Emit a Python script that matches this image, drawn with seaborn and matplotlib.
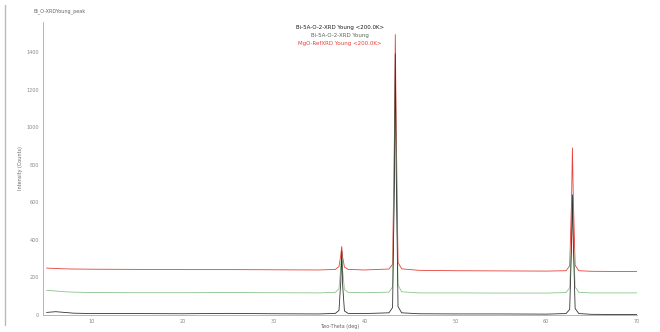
import pandas as pd
import matplotlib.pyplot as plt
import seaborn as sns
from matplotlib.lines import Line2D

# XRD scan data (2-theta in degrees, intensity in counts)
two_theta = [5, 6, 7, 8, 10, 15, 20, 25, 30, 35, 36.8, 37.2, 37.4, 37.5, 37.6, 37.8, 38.2,
             40, 42.7, 43.1, 43.3, 43.4, 43.5, 43.7, 44.1, 46, 50, 55, 60,
             62.2, 62.6, 62.8, 62.9, 63.0, 63.2, 63.6, 65, 68, 70]

black_counts = [14, 18, 14, 10, 8, 8, 7, 9, 7, 6, 9, 25, 180, 340, 160, 22, 9,
                8, 12, 40, 700, 1390, 760, 45, 12, 7, 6, 6, 5,
                8, 30, 360, 640, 380, 35, 8, 4, 3, 3]

green_counts = [132, 128, 124, 122, 120, 119, 119, 120, 119, 118, 121, 140, 260, 330, 240, 135, 121,
                119, 122, 150, 780, 1250, 820, 160, 124, 118, 118, 117, 117,
                120, 145, 400, 600, 410, 150, 121, 118, 118, 118]

red_counts = [250, 248, 246, 245, 244, 243, 242, 242, 241, 240, 243, 258, 320, 365, 310, 255, 243,
              240, 245, 270, 950, 1493, 1000, 280, 246, 238, 236, 235, 234,
              236, 262, 600, 890, 620, 265, 236, 233, 232, 232]

series_names = ['Bi-5A-O-2-XRD Young <200.0K>', 'Bi-5A-O-2-XRD Young', 'MgO-RefXRD Young <200.0K>']
series_colors = ['#333333', '#8cc48c', '#e8403a']

x_ticks = [10, 20, 30, 40, 50, 60, 70]
y_ticks = [0, 200, 400, 600, 800, 1000, 1200, 1400]

rows = []
for name, vals in zip(series_names, [black_counts, green_counts, red_counts]):
    for t, v in zip(two_theta, vals):
        rows.append({'Two-Theta': t, 'Counts': v, 'Series': name})
df = pd.DataFrame(rows)

sns.set_style("white")
fig = plt.figure(figsize=(6.6, 3.32), dpi=100)
ax = fig.add_axes([0.065, 0.051, 0.900, 0.883])

# draw red first, black last so black sits on top
for name, color in zip(series_names[::-1], series_colors[::-1]):
    sns.lineplot(data=df[df['Series'] == name], x='Two-Theta', y='Counts',
                 color=color, linewidth=0.6, estimator=None, ax=ax)

ax.set_xlim(4.6, 70)
ax.set_ylim(0, 1560)
ax.set_xticks(x_ticks)
ax.set_yticks(y_ticks)
ax.tick_params(axis='both', labelsize=3.5, colors='#888888', length=2, width=0.5, pad=1)
ax.set_xlabel('Two-Theta (deg)', fontsize=3.5, color='#666666', labelpad=0)
ax.set_ylabel('Intensity (Counts)', fontsize=3.5, color='#666666', labelpad=2)
for side in ['top', 'right']:
    ax.spines[side].set_visible(False)
for side in ['left', 'bottom']:
    ax.spines[side].set_color('#aaaaaa')
    ax.spines[side].set_linewidth(0.6)

# legend as coloured text
for i, (name, color) in enumerate(zip(series_names, ['#1a1a1a', '#556655', '#e8403a'])):
    ax.text(0.50, 0.99 - i * 0.028, name, transform=ax.transAxes, ha='center', va='top',
            fontsize=4, color=color)

fig.text(0.05, 0.965, 'Bi_O-XRDYoung_peak', fontsize=3.5, color='#666666', ha='left', va='center')
fig.add_artist(Line2D([0.008, 0.008], [0.02, 0.985], transform=fig.transFigure,
                      color='#bbbbbb', linewidth=1.0))

fig.savefig('out.png', dpi=100)
